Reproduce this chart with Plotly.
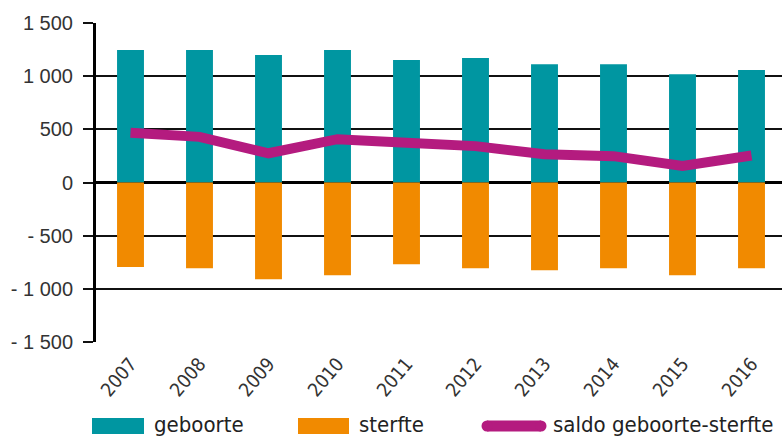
import plotly.graph_objects as go

years = ["2007", "2008", "2009", "2010", "2011", "2012", "2013", "2014", "2015", "2016"]
geboorte = [1245, 1245, 1198, 1245, 1151, 1170, 1113, 1113, 1019, 1057]
sterfte = [-794, -806, -910, -872, -769, -806, -825, -806, -872, -806]
saldo = [467, 429, 275, 407, 373, 342, 266, 248, 156, 254]
y_ticks = [-1500, -1000, -500, 0, 500, 1000, 1500]
y_tick_labels = ["- 1 500", "- 1 000", "- 500", "0", "500", "1 000", "1 500"]

TEAL = "#0096A1"
ORANGE = "#F18A00"
MAGENTA = "#B41B7F"
FONT = "Liberation Sans"
NARROW = "DejaVu Sans Condensed"

W, H = 782, 437
L, R, T, B = 96, 0, 23, 95
pw, ph = W - L - R, H - T - B


def px(x):
    return (x - L) / pw


def py(y):
    return (H - B - y) / ph


fig = go.Figure()
fig.add_trace(go.Bar(x=years, y=geboorte, name="geboorte", marker_color=TEAL,
                     marker_line_width=0, width=0.39))
fig.add_trace(go.Bar(x=years, y=sterfte, name="sterfte", marker_color=ORANGE,
                     marker_line_width=0, width=0.39))
fig.add_trace(go.Scatter(x=years, y=saldo, name="saldo geboorte-sterfte", mode="lines",
                         line=dict(color=MAGENTA, width=10)))

shapes = []
annotations = []
legend_items = [
    ("rect", TEAL, 92, 144, "geboorte", 152),
    ("rect", ORANGE, 298, 349, "sterfte", 357),
    ("line", MAGENTA, 487, 541, "saldo geboorte-sterfte", 551),
]
for kind, color, x0, x1, label, tx in legend_items:
    if kind == "rect":
        shapes.append(dict(type="rect", xref="paper", yref="paper",
                           x0=px(x0), x1=px(x1), y0=py(434), y1=py(418),
                           fillcolor=color, line_width=0))
    else:
        shapes.append(dict(type="line", xref="paper", yref="paper",
                           x0=px(x0), x1=px(x1), y0=py(426), y1=py(426),
                           line=dict(color=color, width=11)))
        for cx in (x0, x1):
            shapes.append(dict(type="circle", xref="paper", yref="paper",
                               x0=px(cx - 5.5), x1=px(cx + 5.5), y0=py(431.5), y1=py(420.5),
                               fillcolor=color, line_width=0))
    annotations.append(dict(text=label, xref="paper", yref="paper", x=px(tx), y=py(424),
                            xanchor="left", yanchor="middle", showarrow=False,
                            font=dict(family=NARROW, size=22, color="#222222")))

fig.update_layout(
    width=W, height=H,
    margin=dict(l=L, r=R, t=T, b=B),
    barmode="relative",
    plot_bgcolor="white", paper_bgcolor="white",
    showlegend=False,
    font=dict(family=FONT, color="#333333"),
    shapes=shapes,
    annotations=annotations,
)
fig.update_xaxes(
    type="category", range=[-0.5, -0.5 + pw / 69.0],
    tickangle=-50, tickfont=dict(size=19, family=NARROW, color="#333333"),
    showgrid=False, showline=False, ticks="", ticklabelstandoff=6,
)
fig.update_yaxes(
    range=[-1500, 1500], tickvals=y_ticks, ticktext=y_tick_labels,
    tickfont=dict(size=20, family=FONT, color="#333333"),
    showgrid=True, gridcolor="#111111", gridwidth=1.5,
    zeroline=True, zerolinecolor="#000000", zerolinewidth=3,
    showline=True, linecolor="#000000", linewidth=3,
    ticks="outside", ticklen=10, tickcolor="#111111", tickwidth=1.5,
    ticklabelstandoff=6,
)

fig.write_html(
    "out.html",
    config={"displayModeBar": False},
    post_script="document.body.style.margin='0';document.body.style.overflow='hidden';",
)
